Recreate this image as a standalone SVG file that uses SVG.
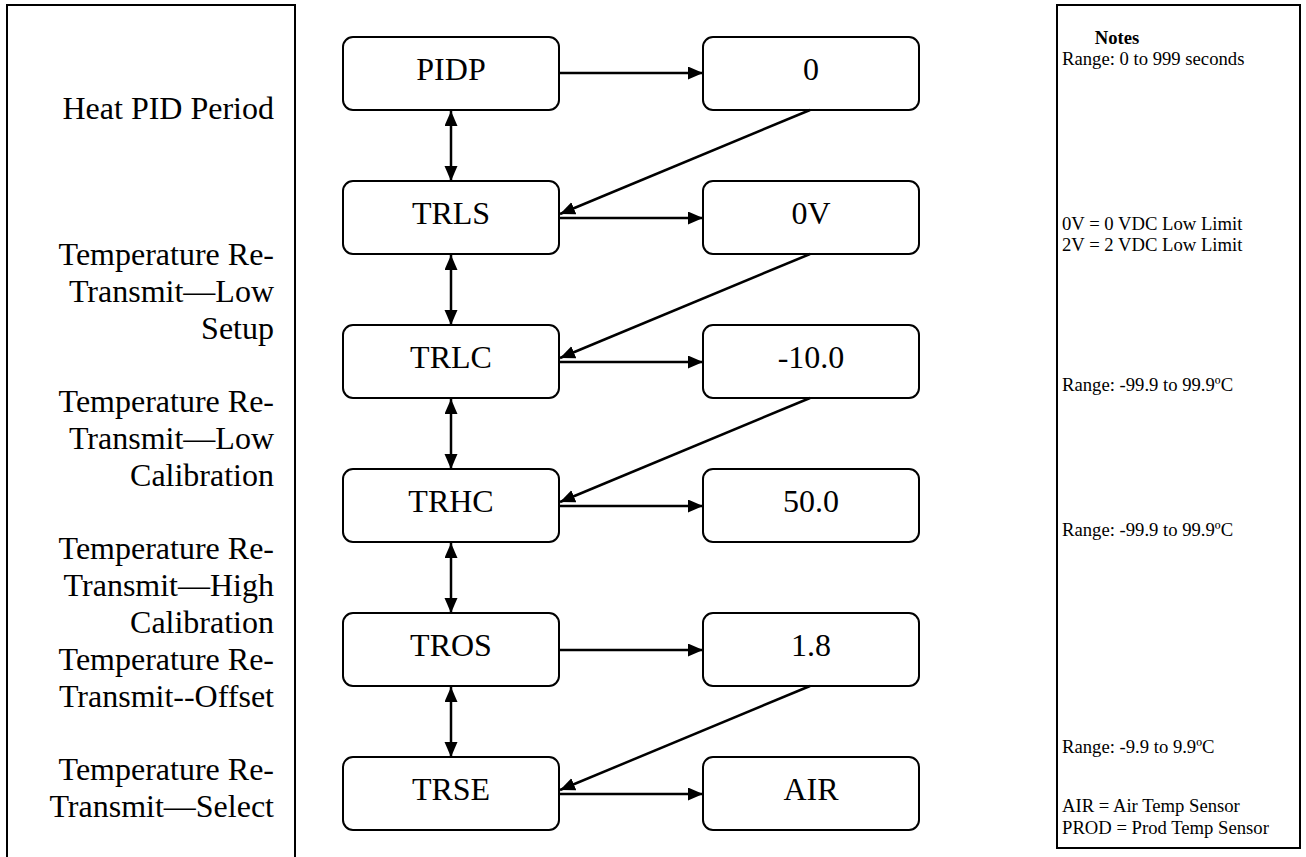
<svg xmlns="http://www.w3.org/2000/svg" width="1306" height="857" viewBox="0 0 1306 857">
  <style>
    .panel { fill: none; stroke: #000; stroke-width: 2; }
    .box { fill: #fff; stroke: #000; stroke-width: 2; }
    .lbl { font-family: "Liberation Serif", "Times New Roman", serif; font-size: 32px; fill: #000; }
    .node-text { font-family: "Liberation Serif", "Times New Roman", serif; font-size: 32px; fill: #000; text-anchor: middle; }
    .note { font-family: "Liberation Serif", "Times New Roman", serif; font-size: 18.67px; fill: #000; }
    .conn { fill: none; stroke: #000; stroke-width: 2.5; }
  </style>
  <defs>
    <marker id="head" markerUnits="userSpaceOnUse" markerWidth="16" markerHeight="14" refX="15" refY="6.5" orient="auto-start-reverse" viewBox="0 0 16 14">
      <path d="M0,0 L15,6.5 L0,13 z" fill="#000"/>
    </marker>
  </defs>
  <rect width="1306" height="857" fill="#fff"/>

  <!-- left description column -->
  <g id="descriptions">
    <path class="panel" d="M7,860 V5 H295 V860"/>
    <g class="lbl" text-anchor="end">
      <text x="274" y="119">Heat PID Period</text>
      <text x="274" y="265">Temperature Re-</text>
      <text x="274" y="302">Transmit—Low</text>
      <text x="274" y="339">Setup</text>
      <text x="274" y="412">Temperature Re-</text>
      <text x="274" y="449">Transmit—Low</text>
      <text x="274" y="486">Calibration</text>
      <text x="274" y="559">Temperature Re-</text>
      <text x="274" y="596">Transmit—High</text>
      <text x="274" y="633">Calibration</text>
      <text x="274" y="670">Temperature Re-</text>
      <text x="274" y="707">Transmit--Offset</text>
      <text x="274" y="780">Temperature Re-</text>
      <text x="274" y="817">Transmit—Select</text>
    </g>
  </g>

  <!-- parameter nodes -->
  <g id="PIDP"><rect class="box" x="343" y="37" width="216" height="73" rx="10"/><text class="node-text" x="451" y="80">PIDP</text></g>
  <g id="TRLS"><rect class="box" x="343" y="181" width="216" height="73" rx="10"/><text class="node-text" x="451" y="224">TRLS</text></g>
  <g id="TRLC"><rect class="box" x="343" y="325" width="216" height="73" rx="10"/><text class="node-text" x="451" y="368">TRLC</text></g>
  <g id="TRHC"><rect class="box" x="343" y="469" width="216" height="73" rx="10"/><text class="node-text" x="451" y="512">TRHC</text></g>
  <g id="TROS"><rect class="box" x="343" y="613" width="216" height="73" rx="10"/><text class="node-text" x="451" y="656">TROS</text></g>
  <g id="TRSE"><rect class="box" x="343" y="757" width="216" height="73" rx="10"/><text class="node-text" x="451" y="800">TRSE</text></g>

  <!-- value nodes -->
  <g id="val-PIDP"><rect class="box" x="703" y="37" width="216" height="73" rx="10"/><text class="node-text" x="811" y="80">0</text></g>
  <g id="val-TRLS"><rect class="box" x="703" y="181" width="216" height="73" rx="10"/><text class="node-text" x="811" y="224">0V</text></g>
  <g id="val-TRLC"><rect class="box" x="703" y="325" width="216" height="73" rx="10"/><text class="node-text" x="811" y="368">-10.0</text></g>
  <g id="val-TRHC"><rect class="box" x="703" y="469" width="216" height="73" rx="10"/><text class="node-text" x="811" y="512">50.0</text></g>
  <g id="val-TROS"><rect class="box" x="703" y="613" width="216" height="73" rx="10"/><text class="node-text" x="811" y="656">1.8</text></g>
  <g id="val-TRSE"><rect class="box" x="703" y="757" width="216" height="73" rx="10"/><text class="node-text" x="811" y="800">AIR</text></g>

  <!-- connectors -->
  <g id="connectors" class="conn">
    <!-- parameter to value -->
    <line x1="559" y1="73" x2="703" y2="73" marker-end="url(#head)"/>
    <line x1="559" y1="218" x2="703" y2="218" marker-end="url(#head)"/>
    <line x1="559" y1="362" x2="703" y2="362" marker-end="url(#head)"/>
    <line x1="559" y1="506" x2="703" y2="506" marker-end="url(#head)"/>
    <line x1="559" y1="650" x2="703" y2="650" marker-end="url(#head)"/>
    <line x1="559" y1="794" x2="703" y2="794" marker-end="url(#head)"/>
    <!-- value back to next parameter -->
    <line x1="810" y1="110" x2="560" y2="214" marker-end="url(#head)"/>
    <line x1="810" y1="254" x2="560" y2="358" marker-end="url(#head)"/>
    <line x1="810" y1="398" x2="560" y2="502" marker-end="url(#head)"/>
    <line x1="810" y1="686" x2="560" y2="790" marker-end="url(#head)"/>
    <!-- up / down between parameters -->
    <line x1="451" y1="111" x2="451" y2="181" marker-start="url(#head)" marker-end="url(#head)"/>
    <line x1="451" y1="255" x2="451" y2="325" marker-start="url(#head)" marker-end="url(#head)"/>
    <line x1="451" y1="399" x2="451" y2="469" marker-start="url(#head)" marker-end="url(#head)"/>
    <line x1="451" y1="543" x2="451" y2="613" marker-start="url(#head)" marker-end="url(#head)"/>
    <line x1="451" y1="687" x2="451" y2="757" marker-start="url(#head)" marker-end="url(#head)"/>
  </g>

  <!-- notes column -->
  <g id="notes">
    <rect class="panel" x="1057" y="5" width="243" height="843"/>
    <text class="note" x="1117" y="44" text-anchor="middle" font-weight="bold">Notes</text>
    <text class="note" x="1062" y="65">Range: 0 to 999 seconds</text>
    <text class="note" x="1062" y="230">0V = 0 VDC Low Limit</text>
    <text class="note" x="1062" y="251">2V = 2 VDC Low Limit</text>
    <text class="note" x="1062" y="391">Range: -99.9 to 99.9ºC</text>
    <text class="note" x="1062" y="536">Range: -99.9 to 99.9ºC</text>
    <text class="note" x="1062" y="753">Range: -9.9 to 9.9ºC</text>
    <text class="note" x="1062" y="812">AIR = Air Temp Sensor</text>
    <text class="note" x="1062" y="834">PROD = Prod Temp Sensor</text>
  </g>
</svg>
